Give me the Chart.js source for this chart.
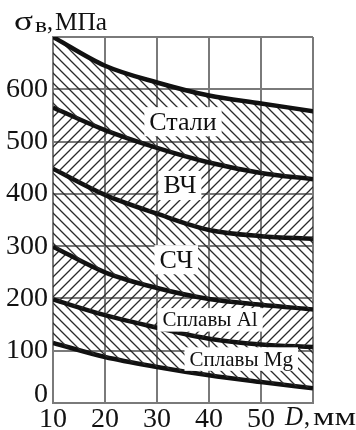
<!DOCTYPE html>
<html>
<head>
<meta charset="utf-8">
<script src="https://cdn.jsdelivr.net/npm/chart.js@4"></script>
<style>
  html, body { margin: 0; padding: 0; background: #fff; }
  canvas { display: block; }
</style>
</head>
<body>
<canvas id="c" width="356" height="430"></canvas>
<script>
// Diameter D, mm
const diameters = [10, 20, 30, 40, 50, 60];

// Boundaries of the strength bands, σв in MPa (top to bottom)
const steelUpper = [700, 645, 613, 588, 573, 558];
const steelLower = [565, 522, 488, 460, 440, 428];   // also upper bound of ВЧ
const ductileLower = [448, 398, 362, 331, 319, 314]; // also upper bound of СЧ
const grayLower = [299, 250, 220, 199, 188, 179];    // also upper bound of Al alloys
const alLower = [198, 168, 144, 123, 112, 107];      // also upper bound of Mg alloys
const mgLower = [115, 88, 69, 53, 40, 28];

const yTicks = [0, 100, 200, 300, 400, 500, 600];
const bandLabels = ['Стали', 'ВЧ', 'СЧ', 'Сплавы Al', 'Сплавы Mg'];

const SERIF = '"Liberation Serif", "DejaVu Serif", serif';

function hatch(dir) {
  const s = 10;
  const c = document.createElement('canvas');
  c.width = s; c.height = s;
  const g = c.getContext('2d');
  g.strokeStyle = '#2a2a2a';
  g.lineWidth = 1.3;
  g.beginPath();
  if (dir === 'back') {
    g.moveTo(-2, -2); g.lineTo(s + 2, s + 2);
    g.moveTo(-2, s - 2); g.lineTo(2, s + 2);
    g.moveTo(s - 2, -2); g.lineTo(s + 2, 2);
  } else {
    g.moveTo(-2, s + 2); g.lineTo(s + 2, -2);
    g.moveTo(-2, 2); g.lineTo(2, -2);
    g.moveTo(s - 2, s + 2); g.lineTo(s + 2, s - 2);
  }
  g.stroke();
  return g.createPattern(c, 'repeat');
}

const ctx = document.getElementById('c').getContext('2d');
const back = hatch('back');
const fwd = hatch('fwd');

const series = [steelUpper, steelLower, ductileLower, grayLower, alLower, mgLower];
const fills = [back, fwd, back, fwd, back, null];

const datasets = series.map((vals, i) => ({
  data: vals.map((v, k) => ({ x: diameters[k], y: v })),
  borderColor: '#111',
  borderWidth: 4.5,
  pointRadius: 0,
  cubicInterpolationMode: 'monotone',
  fill: fills[i] ? '+1' : false,
  backgroundColor: fills[i] || 'transparent'
}));

// Label positions in data units (D, σв)
const labelPos = [
  { x: 35, y: 538, size: 26 },
  { x: 34.4, y: 416, size: 26 },
  { x: 33.7, y: 274, size: 26 },
  { x: 40.2, y: 159, size: 21 },
  { x: 46.2, y: 84, size: 21 }
];

// text squeezed/stretched horizontally to a given width
function fitText(g, text, x, y, font, width) {
  g.font = font;
  const w = g.measureText(text).width;
  g.save();
  g.translate(x, y);
  g.scale(width / w, 1);
  g.fillText(text, 0, 0);
  g.restore();
}

const annotate = {
  id: 'annotate',
  afterDatasetsDraw(chart) {
    const g = chart.ctx;
    const xs = chart.scales.x, ys = chart.scales.y;
    g.save();
    g.textAlign = 'center';
    g.textBaseline = 'middle';
    bandLabels.forEach((t, i) => {
      const p = labelPos[i];
      g.font = p.size + 'px ' + SERIF;
      const w = g.measureText(t).width;
      const cx = xs.getPixelForValue(p.x), cy = ys.getPixelForValue(p.y);
      g.fillStyle = '#fff';
      g.fillRect(cx - w / 2 - 5, cy - p.size * 0.56, w + 10, p.size * 1.12);
      g.fillStyle = '#111';
      g.fillText(t, cx, cy + 1);
    });
    g.restore();
  },
  afterDraw(chart) {
    const g = chart.ctx;
    g.save();
    g.fillStyle = '#111';
    g.textBaseline = 'alphabetic';
    g.textAlign = 'left';
    // axis title σв, МПа
    fitText(g, 'σ', 14, 30, '28px ' + SERIF, 19);
    fitText(g, 'в', 35, 32, '21px ' + SERIF, 12);
    fitText(g, ',', 47, 30, '26px ' + SERIF, 6);
    fitText(g, 'МПа', 55, 30, '26px ' + SERIF, 52);
    // zero of the stress axis, lifted clear of the D labels
    g.font = '28px ' + SERIF;
    g.textAlign = 'right';
    g.fillText('0', 48, 402);
    g.textAlign = 'left';
    // x-axis unit at the end of the axis
    fitText(g, 'D', 285, 425, 'italic 28px ' + SERIF, 18);
    fitText(g, ',', 304, 425, '26px ' + SERIF, 6);
    fitText(g, 'мм', 313, 425, '26px ' + SERIF, 43);
    g.restore();
  }
};

new Chart(ctx, {
  type: 'line',
  data: { datasets },
  options: {
    responsive: false,
    animation: false,
    devicePixelRatio: 1,
    layout: { padding: { top: 37, right: 43, left: 0, bottom: 0 } },
    plugins: { legend: { display: false }, tooltip: { enabled: false } },
    scales: {
      x: {
        type: 'linear',
        min: 10, max: 60,
        afterFit(s) { s.height = 27; },
        grid: { color: '#7a7a7a', lineWidth: 2, drawTicks: false },
        border: { color: '#7a7a7a', width: 2 },
        ticks: {
          stepSize: 10,
          padding: 0,
          color: '#111',
          font: { family: SERIF, size: 28 },
          callback: v => (diameters.includes(v) && v !== 60 ? String(v) : '')
        }
      },
      y: {
        min: 0, max: 700,
        afterFit(s) { s.width = 53; },
        grid: { color: '#7a7a7a', lineWidth: 2, drawTicks: false },
        border: { color: '#7a7a7a', width: 2 },
        ticks: {
          stepSize: 100,
          padding: 5,
          color: '#111',
          font: { family: SERIF, size: 28 },
          callback: v => (yTicks.includes(v) && v !== 0 ? String(v) : '')
        }
      }
    }
  },
  plugins: [annotate]
});
</script>
</body>
</html>
